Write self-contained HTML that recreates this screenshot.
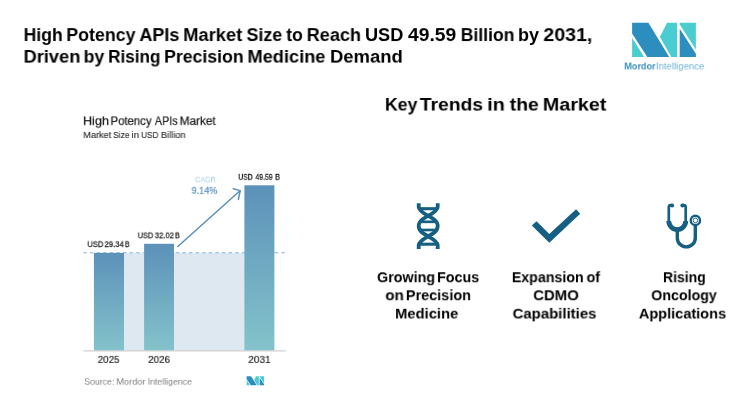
<!DOCTYPE html>
<html>
<head>
<meta charset="utf-8">
<title>High Potency APIs Market</title>
<style>
  html, body { margin: 0; padding: 0; }
  body { width: 750px; height: 412px; background: #ffffff; position: relative; overflow: hidden;
         font-family: "Liberation Sans", sans-serif; color: #000; }
  .t { position: absolute; left: 0; top: 0; white-space: nowrap; line-height: 1; transform-origin: 0 0; will-change: transform; }
  .b { font-weight: bold; }
  .c { text-align: center; transform: translateX(-50%); }
  #gfx { position: absolute; left: 0; top: 0; }
</style>
</head>
<body>

<svg id="gfx" width="750" height="412" viewBox="0 0 750 412">
  <defs>
    <linearGradient id="bar" x1="0" y1="0" x2="0" y2="1">
      <stop offset="0" stop-color="#5c91b9"/>
      <stop offset="1" stop-color="#84c3cb"/>
    </linearGradient>
    
  </defs>

  <!-- chart: light band -->
  <rect x="94" y="252.9" width="180" height="97.7" fill="#dee8f1"/>
  <!-- dashed ref line -->
  <line x1="83.3" y1="252.7" x2="287" y2="252.7" stroke="#8db4d0" stroke-width="1.1" stroke-dasharray="3.6 3"/>
  <!-- bars -->
  <rect x="93.9" y="252.9" width="30.1" height="97.7" fill="url(#bar)"/>
  <rect x="144.1" y="243.8" width="29.9" height="106.8" fill="url(#bar)"/>
  <rect x="244.4" y="185.3" width="30" height="165.3" fill="url(#bar)"/>
  <!-- axis -->
  <line x1="83.4" y1="350.9" x2="285.8" y2="350.9" stroke="#cfcfcf" stroke-width="1.2"/>
  <!-- arrow -->
  <g stroke="#5a90b8" stroke-width="1.5" fill="none" stroke-linecap="round" stroke-linejoin="round">
    <line x1="177.8" y1="246.5" x2="240" y2="190.8"/>
    <polyline points="233.3,188.7 240.2,190.6 238.4,199.4"/>
  </g>

  <!-- small logo -->
  <g transform="translate(246.6,376.2) scale(0.273,0.263)">
    <polygon points="0,0 16.3,0 37.1,34.2 15.2,34.2 0,10.7" fill="#2c8dbf"/>
    <polygon points="0,14.9 12,34.2 0,34.2" fill="#49cdd1"/>
    <polygon points="35,0 44.9,0 44.9,34.2 39.3,34.2 27.8,14.2" fill="#49cdd1"/>
    <polygon points="47.6,0 63.8,0 63.8,26.7 47.6,1.7" fill="#49cdd1"/>
    <polygon points="47.6,5.9 63.8,31 63.8,34.2 47.6,34.2" fill="#2c8dbf"/>
  </g>
  <!-- big logo -->
  <g transform="translate(632.1,22.8)">
    <polygon points="0,0 16.3,0 37.1,34.2 15.2,34.2 0,10.7" fill="#2c8dbf"/>
    <polygon points="0,14.9 12,34.2 0,34.2" fill="#49cdd1"/>
    <polygon points="35,0 44.9,0 44.9,34.2 39.3,34.2 27.8,14.2" fill="#49cdd1"/>
    <polygon points="47.6,0 63.8,0 63.8,26.7 47.6,1.7" fill="#49cdd1"/>
    <polygon points="47.6,5.9 63.8,31 63.8,34.2 47.6,34.2" fill="#2c8dbf"/>
  </g>

  <!-- DNA icon -->
  <g id="dna" transform="translate(428.2,226.1)" fill="none" stroke="#156082">
    <path stroke-width="3.8" d="M-9.5,-22.9 V-19 C-9.5,-15.5 -4,-12.4 0,-10.2 C5,-7.45 9.5,-5 9.5,0 C9.5,5 5,7.45 0,10.2 C-4,12.4 -9.5,15.5 -9.5,19 V22.9"/>
    <path stroke-width="3.8" d="M9.5,-22.9 V-19 C9.5,-15.5 4,-12.4 0,-10.2 C-5,-7.45 -9.5,-5 -9.5,0 C-9.5,5 -5,7.45 0,10.2 C4,12.4 9.5,15.5 9.5,19 V22.9"/>
    <line x1="-9" y1="-17.4" x2="9" y2="-17.4" stroke-width="3.1"/>
    <line x1="-9" y1="18.1" x2="9" y2="18.1" stroke-width="3.1"/>
    <line x1="-8.8" y1="-4.3" x2="8.8" y2="-4.3" stroke-width="2.7"/>
    <line x1="-8.8" y1="3.9" x2="8.8" y2="3.9" stroke-width="2.7"/>
  </g>

  <!-- check icon -->
  <polygon points="531.8,225.5 536.5,221.2 549.3,234 576.1,209.2 580.2,213.7 549.3,242.8" fill="#156082"/>

  <!-- stethoscope -->
  <g id="steth" fill="none" stroke="#156082">
    <path stroke-width="2.7" stroke-linecap="butt" d="M672,205.1 H670.8 Q668.8,205.1 668.8,207.1 V221.6"/>
    <path stroke-width="2.7" stroke-linecap="butt" d="M682.4,205.1 H683.7 Q685.7,205.1 685.7,207.1 V221.6"/>
    <circle cx="672.1" cy="205.5" r="2.05" fill="#156082" stroke="none"/>
    <circle cx="682.4" cy="205.5" r="2.05" fill="#156082" stroke="none"/>
    <path stroke-width="4.8" stroke-linecap="butt" d="M668.75,221.1 A8.5,8.5 0 0 0 685.75,221.1"/>
    <path stroke-width="3.4" stroke-linecap="butt" d="M677.3,230.5 V237.9 A9,9 0 0 0 695.3,237.9 V225"/>
    <circle cx="695.4" cy="220.4" r="4.65" stroke-width="2.4"/>
    <circle cx="695.4" cy="220.4" r="2.3" stroke-width="0.9"/>
  </g>
</svg>

<!-- Title -->
<div class="t b" style="font-size:18px;transform:translate(23.60px,26.12px) scale(0.9779,0.9923);">High</div>
<div class="t b" style="font-size:18px;transform:translate(66.29px,26.12px) scale(0.9883,0.9923);">Potency</div>
<div class="t b" style="font-size:18px;transform:translate(139.37px,26.12px) scale(1.0035,0.9923);">APIs</div>
<div class="t b" style="font-size:18px;transform:translate(183.25px,26.12px) scale(1.0189,0.9923);">Market</div>
<div class="t b" style="font-size:18px;transform:translate(246.51px,26.12px) scale(0.9923,0.9923);">Size</div>
<div class="t b" style="font-size:18px;transform:translate(286.27px,26.12px) scale(0.9695,0.9923);">to</div>
<div class="t b" style="font-size:18px;transform:translate(306.67px,26.12px) scale(1.0071,0.9923);">Reach</div>
<div class="t b" style="font-size:18px;transform:translate(364.99px,26.12px) scale(1.0079,0.9923);">USD</div>
<div class="t b" style="font-size:18px;transform:translate(408.00px,26.12px) scale(1.0722,0.9923);">49.59</div>
<div class="t b" style="font-size:18px;transform:translate(460.71px,26.12px) scale(0.9766,0.9923);">Billion</div>
<div class="t b" style="font-size:18px;transform:translate(517.96px,26.12px) scale(1.0007,0.9923);">by</div>
<div class="t b" style="font-size:18px;transform:translate(543.32px,26.12px) scale(1.0892,0.9923);">2031,</div>
<div class="t b" style="font-size:18px;transform:translate(23.56px,48.06px) scale(1.0143,0.9692);">Driven</div>
<div class="t b" style="font-size:18px;transform:translate(83.58px,48.06px) scale(0.9853,0.9692);">by</div>
<div class="t b" style="font-size:18px;transform:translate(108.14px,48.06px) scale(0.9501,0.9692);">Rising</div>
<div class="t b" style="font-size:18px;transform:translate(164.10px,48.06px) scale(0.9818,0.9692);">Precision</div>
<div class="t b" style="font-size:18px;transform:translate(247.46px,48.06px) scale(1.0129,0.9692);">Medicine</div>
<div class="t b" style="font-size:18px;transform:translate(330.05px,48.06px) scale(1.0244,0.9692);">Demand</div>
<!-- Logo text -->
<div class="t b" style="font-size:10px;transform:translate(624.29px,62.50px) scale(0.9084,0.8625);color:#3a8fc0;">Mordor</div>
<div class="t" style="font-size:10px;transform:translate(655.89px,62.50px) scale(0.9585,0.8625);color:#6fb5d3;">Intelligence</div>
<!-- Right heading -->
<div class="t b" style="font-size:18px;transform:translate(384.90px,96.07px) scale(0.9841,0.9654);">Key</div>
<div class="t b" style="font-size:18px;transform:translate(419.76px,96.07px) scale(1.0712,0.9654);">Trends</div>
<div class="t b" style="font-size:18px;transform:translate(487.20px,96.07px) scale(1.1039,0.9654);">in</div>
<div class="t b" style="font-size:18px;transform:translate(509.74px,96.07px) scale(1.0761,0.9654);">the</div>
<div class="t b" style="font-size:18px;transform:translate(542.76px,96.07px) scale(1.0969,0.9654);">Market</div>
<!-- Chart texts -->
<div class="t" style="font-size:12.2px;transform:translate(82.97px,115.47px) scale(1.0329,0.9333);color:#1e1e1e;-webkit-text-stroke:0.25px #1e1e1e;">High</div>
<div class="t" style="font-size:12.2px;transform:translate(110.47px,115.47px) scale(0.9325,0.9333);color:#1e1e1e;-webkit-text-stroke:0.25px #1e1e1e;">Potency</div>
<div class="t" style="font-size:12.2px;transform:translate(154.79px,115.47px) scale(0.8825,0.9333);color:#1e1e1e;-webkit-text-stroke:0.25px #1e1e1e;">APIs</div>
<div class="t" style="font-size:12.2px;transform:translate(179.63px,115.47px) scale(0.9695,0.9333);color:#1e1e1e;-webkit-text-stroke:0.25px #1e1e1e;">Market</div>
<div class="t" style="font-size:9.5px;transform:translate(83.25px,130.00px) scale(0.9629,1.0000);color:#333;-webkit-text-stroke:0.15px #333;">Market</div>
<div class="t" style="font-size:9.5px;transform:translate(113.10px,130.00px) scale(0.8878,1.0000);color:#333;-webkit-text-stroke:0.15px #333;">Size</div>
<div class="t" style="font-size:9.5px;transform:translate(131.53px,130.00px) scale(1.0094,1.0000);color:#333;-webkit-text-stroke:0.15px #333;">in</div>
<div class="t" style="font-size:9.5px;transform:translate(141.24px,130.00px) scale(0.8553,1.0000);color:#333;-webkit-text-stroke:0.15px #333;">USD</div>
<div class="t" style="font-size:9.5px;transform:translate(160.86px,130.00px) scale(0.9762,1.0000);color:#333;-webkit-text-stroke:0.15px #333;">Billion</div>
<div class="t" style="font-size:9px;transform:translate(195.05px,175.75px) scale(0.8021,0.9500);color:#a8cbe0;">CAGR</div>
<div class="t" style="font-size:10px;transform:translate(191.56px,187.00px) scale(0.9065,0.8375);color:#5f97c0;-webkit-text-stroke:0.3px #5f97c0;">9.14%</div>
<div class="t" style="font-size:9px;transform:translate(238.38px,173.05px) scale(0.7483,0.9500);color:#1a1a1a;-webkit-text-stroke:0.3px #1a1a1a;">USD</div>
<div class="t" style="font-size:9px;transform:translate(255.42px,173.05px) scale(0.7662,0.9500);color:#1a1a1a;-webkit-text-stroke:0.3px #1a1a1a;">49.59</div>
<div class="t" style="font-size:9px;transform:translate(275.12px,173.05px) scale(0.8298,0.9500);color:#1a1a1a;-webkit-text-stroke:0.3px #1a1a1a;">B</div>
<div class="t" style="font-size:9px;transform:translate(137.72px,231.67px) scale(0.8158,0.9333);color:#1a1a1a;-webkit-text-stroke:0.3px #1a1a1a;">USD</div>
<div class="t" style="font-size:9px;transform:translate(154.84px,231.67px) scale(0.8477,0.9333);color:#1a1a1a;-webkit-text-stroke:0.3px #1a1a1a;">32.02</div>
<div class="t" style="font-size:9px;transform:translate(175.05px,231.67px) scale(0.7883,0.9333);color:#1a1a1a;-webkit-text-stroke:0.3px #1a1a1a;">B</div>
<div class="t" style="font-size:9px;transform:translate(87.40px,240.47px) scale(0.8383,0.9333);color:#1a1a1a;-webkit-text-stroke:0.3px #1a1a1a;">USD</div>
<div class="t" style="font-size:9px;transform:translate(104.53px,240.47px) scale(0.8559,0.9333);color:#1a1a1a;-webkit-text-stroke:0.3px #1a1a1a;">29.34</div>
<div class="t" style="font-size:9px;transform:translate(124.98px,240.47px) scale(0.7468,0.9333);color:#1a1a1a;-webkit-text-stroke:0.3px #1a1a1a;">B</div>
<div class="t" style="font-size:10.5px;transform:translate(97.72px,354.90px) scale(0.9340,0.9000);color:#1e1e1e;-webkit-text-stroke:0.2px #1e1e1e;">2025</div>
<div class="t" style="font-size:10.5px;transform:translate(148.11px,354.90px) scale(0.9389,0.9000);color:#1e1e1e;-webkit-text-stroke:0.2px #1e1e1e;">2026</div>
<div class="t" style="font-size:10.5px;transform:translate(248.25px,354.90px) scale(0.9576,0.9000);color:#1e1e1e;-webkit-text-stroke:0.2px #1e1e1e;">2031</div>
<div class="t" style="font-size:10px;transform:translate(84.22px,378.20px) scale(0.8736,0.8000);color:#808080;">Source:</div>
<div class="t" style="font-size:10px;transform:translate(116.23px,378.20px) scale(0.9276,0.8000);color:#808080;">Mordor</div>
<div class="t" style="font-size:10px;transform:translate(147.68px,378.20px) scale(0.8749,0.8000);color:#808080;">Intelligence</div>
<!-- Trend labels -->
<div class="t b" style="font-size:14.4px;transform:translate(377.03px,270.20px) scale(0.9943,1.0000);">Growing</div>
<div class="t b" style="font-size:14.4px;transform:translate(437.03px,270.20px) scale(0.9969,1.0000);">Focus</div>
<div class="t b" style="font-size:14.4px;transform:translate(385.33px,288.32px) scale(1.0508,0.9900);">on</div>
<div class="t b" style="font-size:14.4px;transform:translate(405.83px,288.32px) scale(1.0047,0.9900);">Precision</div>
<div class="t b" style="font-size:14.4px;transform:translate(395.11px,306.86px) scale(1.0261,0.9700);">Medicine</div>
<div class="t b" style="font-size:14.4px;transform:translate(511.85px,270.20px) scale(0.9859,1.0000);">Expansion</div>
<div class="t b" style="font-size:14.4px;transform:translate(586.57px,270.20px) scale(0.9912,1.0000);">of</div>
<div class="t b" style="font-size:14.4px;transform:translate(533.21px,288.32px) scale(1.0371,0.9900);">CDMO</div>
<div class="t b" style="font-size:14.4px;transform:translate(512.61px,306.86px) scale(1.0372,0.9700);">Capabilities</div>
<div class="t b" style="font-size:14.4px;transform:translate(662.96px,270.20px) scale(0.9696,1.0000);">Rising</div>
<div class="t b" style="font-size:14.4px;transform:translate(651.24px,288.32px) scale(0.9884,0.9900);">Oncology</div>
<div class="t b" style="font-size:14.4px;transform:translate(638.85px,306.86px) scale(1.0100,0.9700);">Applications</div>

</body>
</html>
